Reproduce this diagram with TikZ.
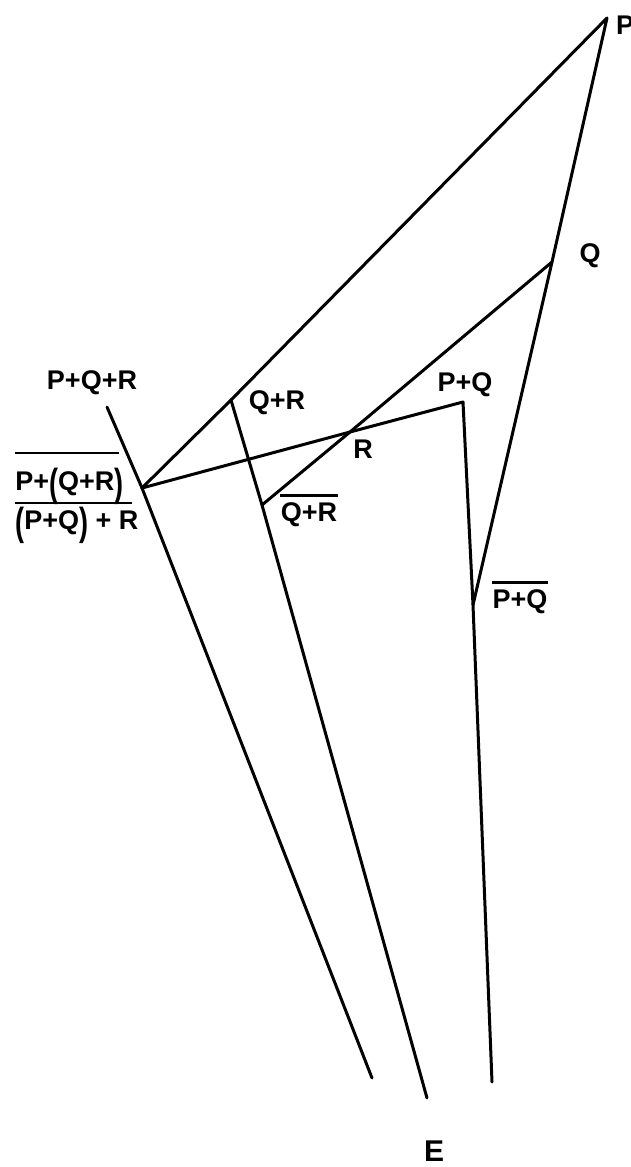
\documentclass[tikz,border=0pt]{standalone}
\usepackage{fontspec}
\setmainfont{Liberation Sans}
\newcommand{\tallpar}[1]{\raisebox{-0.2em}{\scalebox{1}[1.45]{#1}}}
\begin{document}
\begin{tikzpicture}[x=0.5pt,y=-0.5pt,
  edge/.style={line width=1.5pt,line cap=round,line join=round},
  lbl/.style={font=\fontsize{13.5}{16}\selectfont\bfseries,inner sep=0pt},
  bar/.style={line width=1.3pt}]
\useasboundingbox (0,0) rectangle (631,1167);
% points of the construction
\coordinate (P) at (607,18);
\coordinate (Q) at (552,262);
\coordinate (PQ) at (463,402);
\coordinate (R) at (350,432);
\coordinate (QR) at (231,400);
\coordinate (QRb) at (262,505);
\coordinate (PQb) at (473,605);
\coordinate (L) at (142,488);
\coordinate (T) at (107,407);
\coordinate (E1) at (372,1078);
\coordinate (E2) at (427,1098);
\coordinate (E3) at (492,1082);
% lines
\draw[edge] (L) -- (QR) -- (P) -- (Q) -- (PQb);
\draw[edge] (L) -- (R) -- (PQ) -- (PQb) -- (E3);
\draw[edge] (T) -- (L) -- (E1);
\draw[edge] (QR) -- (QRb) -- (E2);
\draw[edge] (Q) -- (R) -- (QRb);
% labels
\node[lbl] (lP) at (625,25) {P};
\node[lbl] (lQ) at (590,256) {Q};
\node[lbl] (lPQ) at (465,385) {P+Q};
\node[lbl] (lR) at (363,449) {R};
\node[lbl] (lQR) at (277,403) {Q+R};
\node[lbl] (lQRb) at (309,515) {Q+R};
\draw[bar] ([yshift=3.5pt]lQRb.north west) -- ([yshift=3.5pt]lQRb.north east);
\node[lbl] (lPQb) at (520,602) {P+Q};
\draw[bar] ([yshift=3.5pt]lPQb.north west) -- ([yshift=3.5pt]lPQb.north east);
\node[lbl] (lPQR) at (92,383) {P+Q+R};
\node[lbl,anchor=west] (lA) at (15,486) {P+\tallpar{(}Q+R\tallpar{)}};
\node[lbl,anchor=west] (lB) at (15,525) {\tallpar{(}P+Q\tallpar{)} + R};
\coordinate (a1) at (15,453);
\coordinate (a2) at (119,453);
\coordinate (b1) at (15,503);
\coordinate (b2) at (132,503);
\draw[bar] (a1) -- (a2);
\draw[bar] (b1) -- (b2);
\node[lbl,font=\fontsize{15}{18}\selectfont\bfseries] (lE) at (434,1151) {E};
\end{tikzpicture}
\end{document}
